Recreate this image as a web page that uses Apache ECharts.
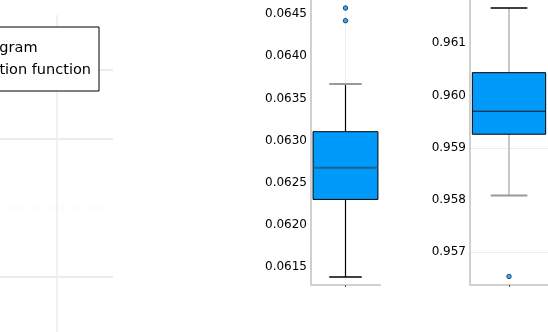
<!DOCTYPE html>
<html><head><meta charset="utf-8">
<style>html,body{margin:0;padding:0;background:#fff;}#c{width:548px;height:332px;}</style>
<script src="https://cdn.jsdelivr.net/npm/echarts@6/dist/echarts.min.js"></script>
</head><body><div id="c"></div>
<script>
// ---- data ----
const legendNames = ['Correlogram', 'Correlation function'];
const leftRefX = [0.05, 1.95];
const leftRefY = [2, 2];
const leftRange = [0.203, 4.797];
const leftXRange = [0, 2];
const midCategories = [''];
const midStats = [0.061384, 0.062304, 0.062679, 0.063106, 0.063671]; // low, q1, median, q3, high
const midOutliers = [0.064421, 0.064571];
const midRange = [0.061290, 0.064666];
const rightCategories = [''];
const rightStats = [0.958086, 0.959260, 0.959700, 0.960438, 0.961675];
const rightOutliers = [0.956537];
const rightRange = [0.956374, 0.961829];

// ---- styles ----
const FONT = 'DejaVu Sans';
const boxStyles = [
  {vert:{stroke:'#000',lineWidth:1.2}, upCap:{stroke:'#999',lineWidth:2}, loCap:{stroke:'#000',lineWidth:1.5}, median:{stroke:'#1f5f8b',lineWidth:2}},
  {vert:{stroke:'#c8c8c8',lineWidth:2}, upCap:{stroke:'#000',lineWidth:1.5}, loCap:{stroke:'#999',lineWidth:2}, median:{stroke:'#111',lineWidth:1.2}}
];
function makeRender(st){
  return function(params, api){
    const x = api.value(0);
    const p = [1,2,3,4,5].map(i => api.coord([x, api.value(i)]));
    const cx = p[0][0];
    const band = api.size([1,0])[0];
    const bw = band*0.94/2, cw = band*0.235;
    return {type:'group', children:[
      {type:'line', shape:{x1:cx,y1:p[3][1],x2:cx,y2:p[4][1]}, style:st.vert},
      {type:'line', shape:{x1:cx,y1:p[0][1],x2:cx,y2:p[1][1]}, style:st.vert},
      {type:'line', shape:{x1:cx-cw,y1:p[4][1],x2:cx+cw,y2:p[4][1]}, style:st.upCap},
      {type:'line', shape:{x1:cx-cw,y1:p[0][1],x2:cx+cw,y2:p[0][1]}, style:st.loCap},
      {type:'rect', shape:{x:cx-bw,y:p[3][1],width:2*bw,height:p[1][1]-p[3][1]}, style:{fill:'#009AFA',stroke:'#000',lineWidth:1}},
      {type:'line', shape:{x1:cx-bw,y1:p[2][1],x2:cx+bw,y2:p[2][1]}, style:st.median}
    ]};
  };
}
const axisLineStyle = {show:true, lineStyle:{color:'#d0d0d0', width:2}};
function yAxisFor(gridIndex, range, digits, gridColors){
  return {
    type:'value', gridIndex, min:range[0], max:range[1], scale:true,
    axisLine: axisLineStyle, axisTick:{show:false},
    axisLabel:{show:true, margin:4, showMinLabel:false, showMaxLabel:false, color:'#000', fontFamily:FONT, fontSize:12,
      formatter: v => v.toFixed(digits)},
    splitLine: gridColors ? {show:true, showMinLine:false, showMaxLine:false, lineStyle:{color:gridColors, width:1}} : {show:false}
  };
}
function xCatAxis(gridIndex, cats){
  return {
    type:'category', gridIndex, data:cats, boundaryGap:true,
    axisLine: axisLineStyle,
    axisTick:{show:true, alignWithLabel:true, length:2, lineStyle:{color:'#555', width:1}},
    axisLabel:{show:false}, splitLine:{show:false}
  };
}

const option = {
  animation:false,
  backgroundColor:'#fff',
  legend:{
    data: legendNames, orient:'vertical', right:449, top:27,
    padding:[13,8,13,8], itemGap:6, itemWidth:30, itemHeight:16,
    borderColor:'#000', borderWidth:1, backgroundColor:'#fff', selectedMode:false,
    textStyle:{fontFamily:FONT, fontSize:14.5, color:'#000', lineHeight:16}
  },
  grid:[
    {left:0, width:113, top:15, bottom:0, containLabel:false},
    {left:311, right:168, top:0, bottom:47, containLabel:false},
    {left:470, right:0, top:0, bottom:47, containLabel:false}
  ],
  xAxis:[
    {type:'value', gridIndex:0, min:leftXRange[0], max:leftXRange[1], interval:1,
     axisLine:{show:false}, axisTick:{show:false}, axisLabel:{show:false},
     splitLine:{show:true, showMinLine:false, showMaxLine:false, lineStyle:{color:'#ececec', width:1.5}}},
    xCatAxis(1, midCategories),
    xCatAxis(2, rightCategories)
  ],
  yAxis:[
    {type:'value', gridIndex:0, min:leftRange[0], max:leftRange[1], splitNumber:5,
     axisLine:{show:false}, axisTick:{show:false}, axisLabel:{show:false},
     splitLine:{show:true, showMinLine:false, showMaxLine:false, lineStyle:{color:['#e6e6e6','transparent','#e6e6e6','#e6e6e6'], width:1.5}}},
    yAxisFor(1, midRange, 4, null),
    yAxisFor(2, rightRange, 3, ['#ececec','transparent','#ececec','transparent','transparent'])
  ],
  series:[
    {type:'line', name:legendNames[0], xAxisIndex:0, yAxisIndex:0, data:[], color:'#009AFA', symbol:'none'},
    {type:'line', name:legendNames[1], xAxisIndex:0, yAxisIndex:0, data:[], color:'#E36F47', symbol:'none'},
    {type:'line', name:'ref', xAxisIndex:0, yAxisIndex:0, silent:true, symbol:'none',
     data: leftRefX.map((x,i)=>[x, leftRefY[i]]), lineStyle:{color:'#e2e2e2', width:1, type:[1,4]}},
    {type:'scatter', xAxisIndex:1, yAxisIndex:1, data: midOutliers.map(v=>[0,v]), symbolSize:4.5,
     itemStyle:{color:'#009AFA', borderColor:'#10283f', borderWidth:1}, z:5,
     markLine:{silent:true, symbol:'none', label:{show:false}, lineStyle:{color:'#efefef', width:1, type:'solid'}, data:[{xAxis:0}], z:1}},
    {type:'custom', xAxisIndex:1, yAxisIndex:1, renderItem:makeRender(boxStyles[0]),
     data:[[0, ...midStats]], encode:{x:0, y:[1,2,3,4,5]}, z:3},
    {type:'scatter', xAxisIndex:2, yAxisIndex:2, data: rightOutliers.map(v=>[0,v]), symbolSize:4.5,
     itemStyle:{color:'#009AFA', borderColor:'#10283f', borderWidth:1}, z:5},
    {type:'custom', xAxisIndex:2, yAxisIndex:2, renderItem:makeRender(boxStyles[1]),
     data:[[0, ...rightStats]], encode:{x:0, y:[1,2,3,4,5]}, z:3}
  ]
};
const chart = echarts.init(document.getElementById('c'), null, {renderer:'canvas'});
chart.setOption(option);
</script>
</body></html>
